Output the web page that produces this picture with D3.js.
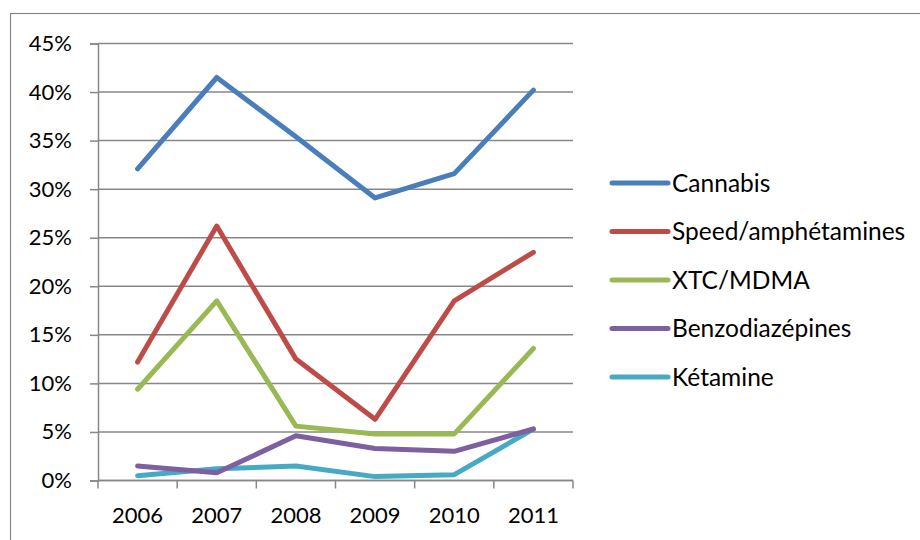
<!DOCTYPE html>
<html>
<head>
<meta charset="utf-8">
<script src="https://cdn.jsdelivr.net/npm/d3@7"></script>
<style>
  body { margin: 0; background: #fff; }
  svg text { font-family: Lato, "Noto Sans", sans-serif; fill: #000; }
</style>
</head>
<body>
<svg id="chart" width="920" height="540"></svg>
<script>
// Survey years and share of users per substance
const years = ["2006", "2007", "2008", "2009", "2010", "2011"];
const seriesNames = ["Cannabis", "Speed/amphétamines", "XTC/MDMA", "Benzodiazépines", "Kétamine"];
const cannabis = [32.1, 41.5, 35.4, 29.1, 31.6, 40.2];
const speed = [12.2, 26.2, 12.5, 6.3, 18.5, 23.5];
const xtc = [9.4, 18.5, 5.6, 4.8, 4.8, 13.6];
const benzo = [1.5, 0.8, 4.6, 3.3, 3.0, 5.3];
const ketamine = [0.5, 1.2, 1.5, 0.4, 0.6, 5.3];
const yTicks = [0, 5, 10, 15, 20, 25, 30, 35, 40, 45];
const colors = ["#4a7ebb", "#be4b48", "#98b954", "#7d60a0", "#46aac5"];

const series = [cannabis, speed, xtc, benzo, ketamine].map((values, i) => ({
  name: seriesNames[i],
  color: colors[i],
  values
}));

const svg = d3.select("#chart");
const grey = "#878787";

// outer chart frame (runs off the right and bottom edges like the reference)
svg.append("rect")
  .attr("x", 10.5).attr("y", 13.5)
  .attr("width", 960).attr("height", 600)
  .attr("fill", "none").attr("stroke", grey).attr("stroke-width", 1.2);

const x = d3.scaleBand().domain(years).range([98, 573]);
const y = d3.scaleLinear().domain([0, 45]).range([480.5, 43.5]);

// horizontal gridlines
svg.append("g")
  .selectAll("line")
  .data(yTicks)
  .join("line")
  .attr("x1", 98).attr("x2", 573)
  .attr("y1", d => y(d)).attr("y2", d => y(d))
  .attr("stroke", grey).attr("stroke-width", 1.5);

// y axis
const yAxis = svg.append("g")
  .attr("transform", "translate(98,0)")
  .call(d3.axisLeft(y).tickValues(yTicks).tickSize(8).tickPadding(18).tickFormat(d => d + "%"));
yAxis.select(".domain").attr("stroke", grey).attr("stroke-width", 1.5);
yAxis.selectAll(".tick line").attr("stroke", grey).attr("stroke-width", 1.5);
yAxis.selectAll("text").attr("font-size", 22).attr("font-family", "Lato");

// x axis: ticks on band edges, labels in band centres
const xAxisG = svg.append("g").attr("transform", `translate(0,${y(0)})`);
xAxisG.append("line")
  .attr("x1", 98).attr("x2", 573)
  .attr("stroke", grey).attr("stroke-width", 1.5);
const edges = years.map(d => x(d)).concat([x.range()[1]]);
xAxisG.selectAll(".edge")
  .data(edges)
  .join("line")
  .attr("class", "edge")
  .attr("x1", d => d).attr("x2", d => d)
  .attr("y1", 0).attr("y2", 8)
  .attr("stroke", grey).attr("stroke-width", 1.5);
xAxisG.selectAll(".lbl")
  .data(years)
  .join("text")
  .attr("class", "lbl")
  .attr("x", d => x(d) + x.bandwidth() / 2)
  .attr("y", 42)
  .attr("text-anchor", "middle")
  .attr("font-size", 22)
  .text(d => d);

// series lines
const line = d3.line()
  .x((d, i) => x(years[i]) + x.bandwidth() / 2)
  .y(d => y(d));

svg.append("g")
  .selectAll("path")
  .data(series.slice().reverse())
  .join("path")
  .attr("d", d => line(d.values))
  .attr("fill", "none")
  .attr("stroke", d => d.color)
  .attr("stroke-width", 5)
  .attr("stroke-linecap", "round")
  .attr("stroke-linejoin", "round");

// legend
const legend = svg.append("g")
  .selectAll("g")
  .data(series)
  .join("g")
  .attr("transform", (d, i) => `translate(612,${183 + i * 48.5})`);
legend.append("line")
  .attr("x1", 0).attr("x2", 56)
  .attr("stroke", d => d.color)
  .attr("stroke-width", 5)
  .attr("stroke-linecap", "round");
legend.append("text")
  .attr("x", 60)
  .attr("dy", "0.35em")
  .attr("font-size", 24.5)
  .text(d => d.name);
</script>
</body>
</html>
